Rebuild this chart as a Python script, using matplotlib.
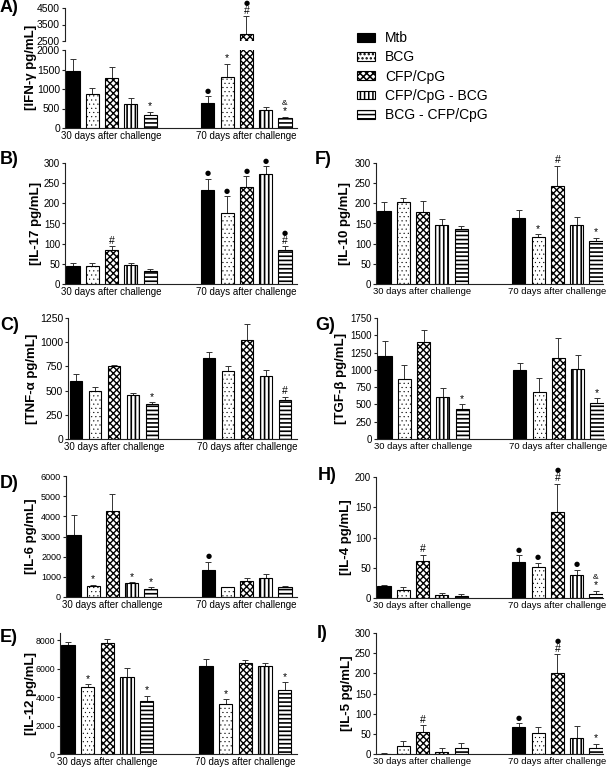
import matplotlib
matplotlib.use('Agg')
import matplotlib.pyplot as plt
from matplotlib.patches import Patch

plt.rcParams['font.family'] = ['Liberation Sans', 'DejaVu Sans']
plt.rcParams['hatch.linewidth'] = 1.1

W, H = 608, 769

# ---------------- data ----------------
groups = ['Mtb', 'BCG', 'CFP/CpG', 'CFP/CpG - BCG', 'BCG - CFP/CpG']
timepoints = ['30 days after challenge', '70 days after challenge']

# order: 5 groups at 30 days, then 5 groups at 70 days
ifng_mean = [1450, 870, 1280, 610, 330, 640, 1300, 2950, 460, 250]
ifng_sem = [310, 150, 280, 150, 80, 170, 340, 1050, 70, 40]
il17_mean = [45, 45, 84, 47, 31, 234, 176, 240, 272, 84]
il17_sem = [8, 6, 9, 4, 5, 27, 41, 27, 20, 9]
tnfa_mean = [597, 500, 749, 459, 363, 832, 701, 1019, 649, 400]
tnfa_sem = [76, 35, 11, 14, 17, 66, 48, 169, 62, 38]
il6_mean = [3082, 544, 4285, 675, 395, 1318, 478, 807, 939, 478]
il6_sem = [988, 66, 805, 50, 83, 428, 32, 116, 198, 66]
il12_mean = [7650, 4688, 7766, 5434, 3755, 6180, 3498, 6413, 6203, 4478]
il12_sem = [186, 209, 280, 583, 350, 467, 350, 187, 164, 559]
il10_mean = [182, 203, 178, 146, 136, 164, 116, 244, 146, 107]
il10_sem = [21, 10, 29, 15, 8, 19, 7, 49, 19, 8]
tgfb_mean = [1203, 870, 1397, 609, 430, 1005, 686, 1170, 1015, 527]
tgfb_sem = [208, 198, 183, 126, 73, 97, 203, 290, 203, 63]
il4_mean = [20, 12.7, 60.6, 5.5, 3.9, 60, 51, 142, 38, 7]
il4_sem = [2, 5.3, 11, 2.8, 2.1, 10.5, 7, 47, 9, 4.6]
il5_mean = [1, 21, 54, 6, 14, 67, 53, 200, 40, 16]
il5_sem = [0.5, 11, 17, 8, 14, 9, 15, 47, 30, 10]

# significance marks (bar index -> symbols, bottom to top)
ifng_marks = {4: ['*'], 5: ['●'], 6: ['*'], 7: ['#', '●'], 9: ['*', '&']}
il17_marks = {2: ['#'], 5: ['●'], 6: ['●'], 7: ['●'], 8: ['●'], 9: ['#', '●']}
tnfa_marks = {4: ['*'], 9: ['#']}
il6_marks = {1: ['*'], 3: ['*'], 4: ['*'], 5: ['●']}
il12_marks = {1: ['*'], 4: ['*'], 6: ['*'], 9: ['*']}
il10_marks = {6: ['*'], 7: ['#'], 9: ['*']}
tgfb_marks = {4: ['*'], 9: ['*']}
il4_marks = {2: ['#'], 5: ['●'], 6: ['●'], 7: ['#', '●'], 8: ['●'], 9: ['*', '&']}
il5_marks = {2: ['#'], 5: ['●'], 7: ['#', '●'], 9: ['*']}

positions = [0, 1, 2, 3, 4, 7, 8, 9, 10, 11]
group_tick_pos = [2, 9]

# ---------------- styles ----------------
faces = ['black', 'white', 'white', 'white', 'white']
hatches = [None, '....', 'xxxxx', '||||', '----']
hatch_lw = [1.0, 0.3, 1.0, 1.2, 1.2]
BAR_W = 0.68

fig = plt.figure(figsize=(W / 100, H / 100), dpi=100)


def make_ax(left, top, width, height):
    return fig.add_axes([left / W, 1 - (top + height) / H, width / W, height / H])


def style_ax(ax, yticks, fs, xfs=7):
    for s in ['top', 'right']:
        ax.spines[s].set_visible(False)
    for s in ['left', 'bottom']:
        ax.spines[s].set_linewidth(0.8)
        ax.spines[s].set_color('#222222')
    ax.set_yticks(yticks)
    ax.set_yticklabels([str(t) for t in yticks])
    ax.tick_params(axis='y', direction='out', length=2.5, width=0.8,
                   labelsize=fs, pad=1, color='#222222')
    ax.set_xticks(group_tick_pos)
    ax.set_xticklabels(timepoints)
    ax.tick_params(axis='x', length=0, labelsize=xfs, pad=2.5)


def draw_bars(ax, means, sems):
    for i, (p, m, e) in enumerate(zip(positions, means, sems)):
        g = i % 5
        with plt.rc_context({'hatch.linewidth': hatch_lw[g]}):
            b = ax.bar(p, m, width=BAR_W, color=faces[g], edgecolor='black',
                       hatch=hatches[g], linewidth=0.8, zorder=2)
            for r in b:
                if hasattr(r, 'set_hatch_linewidth'):
                    r.set_hatch_linewidth(hatch_lw[g])
        ax.errorbar(p, m, yerr=[[0], [e]], fmt='none', ecolor='#333333',
                    elinewidth=0.7, capsize=2.4, capthick=0.7, zorder=1)


def draw_marks(ax, means, sems, marks):
    for i, syms in marks.items():
        top = means[i] + sems[i]
        for k, s in enumerate(syms):
            fs = 5 if s == '●' else (6 if s == '&' else 7.5)
            fam = ['DejaVu Sans'] if s == '●' else ['Liberation Sans', 'DejaVu Sans']
            ax.annotate(s, xy=(positions[i], top), xytext=(0, 5.5 + 8 * k),
                        textcoords='offset pixels', ha='center', va='center',
                        fontsize=fs, family=fam, annotation_clip=False)


def panel(c0, s, xmax, ytop, ybot, ylim, yticks, means, sems, marks, fs, xfs=7):
    left = c0 - 0.42 * s
    width = (xmax + 0.42) * s
    ax = make_ax(left, ytop, width, ybot - ytop)
    draw_bars(ax, means, sems)
    draw_marks(ax, means, sems, marks)
    ax.set_xlim(-0.42, xmax)
    ax.set_ylim(*ylim)
    style_ax(ax, yticks, fs, xfs)
    return ax


LX = 11.62
RX = 11.38

# ---- Panel A (broken axis) ----
sA = 19.27
leftA = 73 - 0.42 * sA
widthA = (LX + 0.42) * sA
axA_lo = make_ax(leftA, 50, widthA, 128 - 50)
axA_hi = make_ax(leftA, 8, widthA, 41 - 8)
for ax in (axA_lo, axA_hi):
    draw_bars(ax, ifng_mean, ifng_sem)
    ax.set_xlim(-0.42, LX)
axA_lo.set_ylim(0, 2000)
axA_hi.set_ylim(2500, 4500)
style_ax(axA_lo, [0, 500, 1000, 1500, 2000], 7.5)
style_ax(axA_hi, [2500, 3500, 4500], 7.5)
axA_hi.spines['bottom'].set_visible(False)
axA_hi.set_xticks([])
lo_marks = {k: v for k, v in ifng_marks.items() if ifng_mean[k] + ifng_sem[k] <= 2000}
hi_marks = {k: v for k, v in ifng_marks.items() if ifng_mean[k] + ifng_sem[k] > 2000}
draw_marks(axA_lo, ifng_mean, ifng_sem, lo_marks)
draw_marks(axA_hi, ifng_mean, ifng_sem, hi_marks)

# ---- other panels ----
panel(73, 19.27, LX, 163, 284, (0, 300), list(range(0, 301, 50)),
      il17_mean, il17_sem, il17_marks, 7)
panel(76, 19.0, LX, 318, 439, (0, 1250), list(range(0, 1251, 250)),
      tnfa_mean, tnfa_sem, tnfa_marks, 7.5)
panel(74, 19.18, LX, 476, 597, (0, 6000), list(range(0, 6001, 1000)),
      il6_mean, il6_sem, il6_marks, 6.5)
panel(68, 19.7, LX, 633, 754, (0, 8500), list(range(0, 8001, 2000)),
      il12_mean, il12_sem, il12_marks, 6.3)
panel(384, 19.27, RX, 163, 284, (0, 300), list(range(0, 301, 50)),
      il10_mean, il10_sem, il10_marks, 7, 6.8)
panel(385, 19.27, RX, 318, 439, (0, 1750), list(range(0, 1751, 250)),
      tgfb_mean, tgfb_sem, tgfb_marks, 7, 6.8)
panel(384, 19.27, RX, 477, 598, (0, 200), list(range(0, 201, 50)),
      il4_mean, il4_sem, il4_marks, 7, 6.8)
panel(384, 19.27, RX, 633, 754, (0, 300), list(range(0, 301, 50)),
      il5_mean, il5_sem, il5_marks, 7, 6.8)

# ---- y labels ----
ylabels = [('[IFN-γ pg/mL]', 31, 67.5), ('[IL-17 pg/mL]', 36, 223.5),
           ('[TNF-α pg/mL]', 32, 378.5), ('[IL-6 pg/mL]', 31, 536.5),
           ('[IL-12 pg/mL]', 31, 693.5), ('[IL-10 pg/mL]', 345, 223.5),
           ('[TGF-β pg/mL]', 341, 378.5), ('[IL-4 pg/mL]', 346, 537.5),
           ('[IL-5 pg/mL]', 347, 693.5)]
for txt, x, y in ylabels:
    fig.text(x / W, 1 - y / H, txt, rotation=90, ha='center', va='center',
             fontsize=9.5, fontweight='bold')

# ---- panel letters ----
letters = [('A)', 0, 8), ('B)', 0, 159), ('C)', 0, 326), ('D)', 0, 483),
           ('E)', 0, 637), ('F)', 315, 160), ('G)', 315, 325), ('H)', 318, 476),
           ('I)', 317, 634)]
for txt, x, y in letters:
    fig.text(x / W, 1 - y / H, txt, ha='left', va='center',
             fontsize=13, fontweight='bold')

# ---- legend ----
handles = []
for g in range(5):
    with plt.rc_context({'hatch.linewidth': hatch_lw[g]}):
        p = Patch(facecolor=faces[g], edgecolor='black', hatch=hatches[g],
                  linewidth=0.8, label=groups[g])
        if hasattr(p, 'set_hatch_linewidth'):
            p.set_hatch_linewidth(hatch_lw[g])
    handles.append(p)
fig.legend(handles=handles, loc='upper left', bbox_to_anchor=(357 / W, 1 - 31 / H),
           frameon=False, fontsize=10, handlelength=1.3, handleheight=0.6,
           handletextpad=0.7, labelspacing=0.38, borderpad=0, borderaxespad=0)

fig.savefig('out.png', dpi=100)
